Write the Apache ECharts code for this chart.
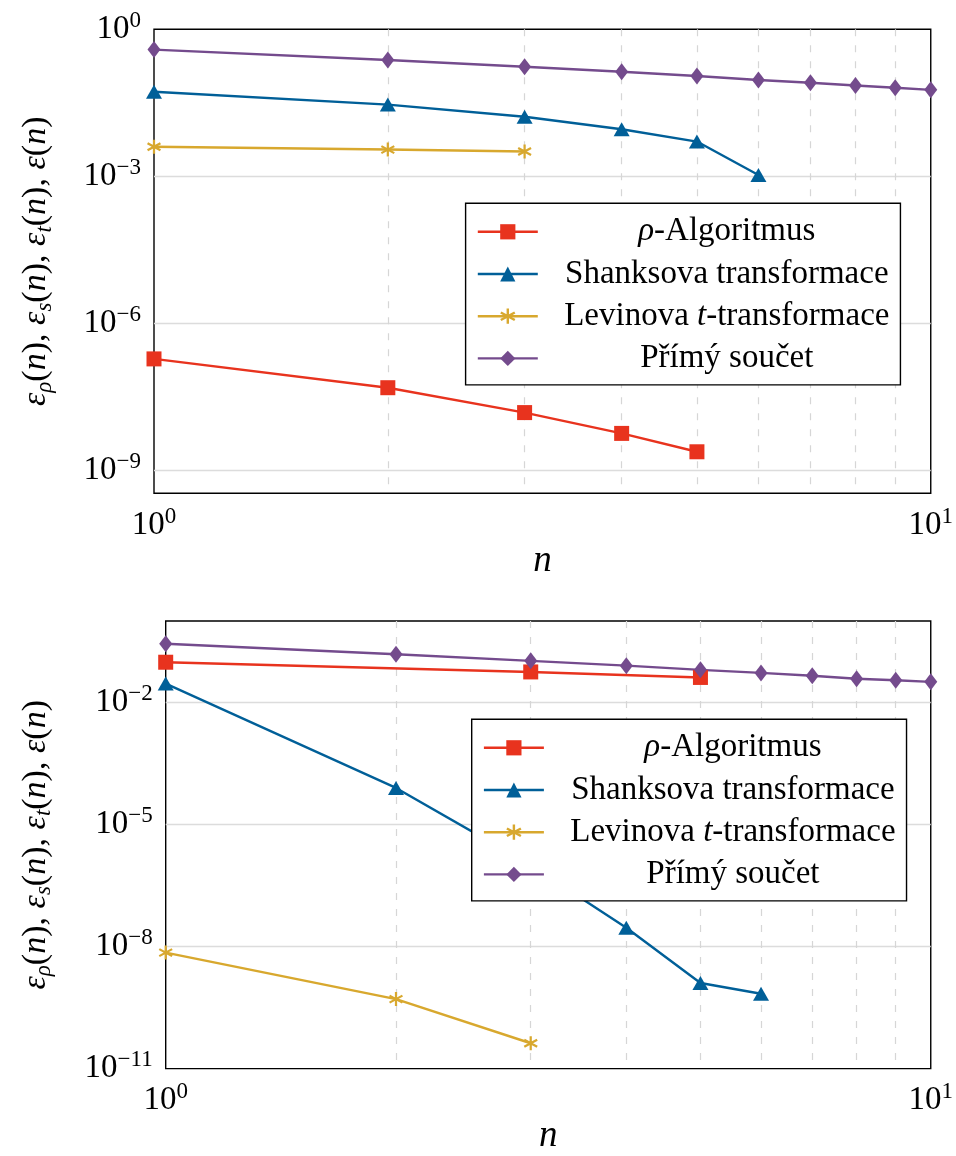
<!DOCTYPE html>
<html>
<head>
<meta charset="utf-8">
<script src="https://cdn.jsdelivr.net/npm/echarts@6/dist/echarts.min.js"></script>
<style>
  html, body { margin: 0; padding: 0; background: #fff; }
  #chart { width: 956px; height: 1156px; }
</style>
</head>
<body>
<div id="chart"></div>
<script>
// n values (x axis)
const nAll = [1, 2, 3, 4, 5, 6, 7, 8, 9, 10];

// top chart
const topRho = [1.86e-7, 4.8e-8, 1.49e-8, 5.6e-9, 2.36e-9];
const topShanks = [0.053, 0.029, 0.0164, 0.0091, 0.0051, 0.00106];
const topLevin = [0.0040, 0.0035, 0.0032];
const topDirect = [0.385, 0.236, 0.172, 0.136, 0.111, 0.092, 0.081, 0.071, 0.064, 0.058];

// bottom chart
const botRhoN = [1, 3, 5];
const botRho = [0.097, 0.056, 0.041];
const botShanks = [0.029, 7.9e-5, 1.0e-6, 2.9e-8, 1.27e-9, 6.9e-10];
const botLevin = [7.1e-9, 5.1e-10, 4.2e-11];
const botDirect = [0.276, 0.152, 0.105, 0.080, 0.063, 0.053, 0.045, 0.038, 0.035, 0.032];

// axis ticks
const topYLabels = [1e-9, 1e-6, 1e-3, 1];
const topYGrid = [1e-9, 1e-6, 1e-3];
const botYLabels = [1e-11, 1e-8, 1e-5, 1e-2];
const botYGrid = [1e-8, 1e-5, 1e-2];

const names = ['ρ-Algoritmus', 'Shanksova transformace', 'Levinova t-transformace', 'Přímý součet'];

const FONT = 'Liberation Serif';
const colors = ['#e8331e', '#005f98', '#d8a82e', '#744b8d'];
// six-armed asterisk
const starPath = 'path://M8.5 0L11.5 0L11.5 20L8.5 20Z M2.09 16.3L0.59 13.7L17.91 3.7L19.41 6.3Z M2.09 3.7L19.41 13.7L17.91 16.3L0.59 6.3Z';
const symbols = ['rect', 'triangle', starPath, 'diamond'];
const symbolSizes = [15, [16, 14], 14, [13, 17]];

// legend texts (math parts italic)
const legendRich = {
  'ρ-Algoritmus': '{ci|ρ}{c|-Algoritmus}',
  'Shanksova transformace': '{c|Shanksova transformace}',
  'Levinova t-transformace': '{c|Levinova }{ci|t}{c|-transformace}',
  'Přímý součet': '{c|Přímý součet}'
};

const yName = '{i|ε}{s|ρ}{m|(}{i|n}{m|), }{i|ε}{s|s}{m|(}{i|n}{m|), }{i|ε}{s|t}{m|(}{i|n}{m|), }{i|ε}{m|(}{i|n}{m|)}';

function pow10Label(v) {
  const e = Math.round(Math.log10(v));
  return '{b|10}{p|' + String(e).replace('-', '−') + '}';
}

const labelRich = {
  b: { fontFamily: FONT, fontSize: 33, lineHeight: 40, color: '#000' },
  p: { fontFamily: FONT, fontSize: 23, lineHeight: 21, verticalAlign: 'top', color: '#000' }
};

const nameRich = {
  m: { fontFamily: FONT, fontSize: 34, lineHeight: 40, color: '#000' },
  i: { fontFamily: FONT, fontSize: 34, lineHeight: 40, fontStyle: 'italic', color: '#000' },
  s: { fontFamily: FONT, fontSize: 23, lineHeight: 17, fontStyle: 'italic', verticalAlign: 'bottom', color: '#000' }
};

function pairs(xs, ys) {
  return ys.map((v, i) => [xs[i], v]);
}

function mkSeries(idx, k, data) {
  return {
    name: names[k],
    type: 'line',
    xAxisIndex: idx,
    yAxisIndex: idx,
    data: data,
    symbol: symbols[k],
    symbolSize: symbolSizes[k],
    clip: false,
    animation: false,
    lineStyle: { color: colors[k], width: 2.4 },
    itemStyle: { color: colors[k] },
    z: 2
  };
}

function mkXAxis(idx) {
  return {
    type: 'log',
    logBase: 10,
    gridIndex: idx,
    min: 1,
    max: 10,
    axisLine: { show: false },
    axisTick: { show: false },
    splitLine: { show: false },
    minorTick: { show: false, splitNumber: 9 },
    minorSplitLine: { show: true, lineStyle: { color: '#d6d6d6', width: 1.2, type: [7, 9] } },
    axisLabel: { margin: 12, formatter: pow10Label, rich: labelRich },
    name: 'n',
    nameLocation: 'middle',
    nameGap: 47,
    nameTextStyle: { fontFamily: FONT, fontSize: 37, fontStyle: 'italic', color: '#000' }
  };
}

function mkYAxis(idx, min, max, labels, grid, gap) {
  return {
    type: 'log',
    logBase: 10,
    gridIndex: idx,
    min: min,
    max: max,
    axisLine: { show: false },
    axisTick: { show: false, customValues: grid },
    splitLine: { show: true, lineStyle: { color: '#dcdcdc', width: 1.3 } },
    axisLabel: { margin: 13, customValues: labels, formatter: pow10Label, rich: labelRich },
    name: yName,
    nameLocation: 'middle',
    nameRotate: 90,
    nameGap: gap,
    nameTextStyle: { rich: nameRich }
  };
}

function mkLegend(left, top) {
  return {
    orient: 'vertical',
    left: left,
    top: top,
    z: 20,
    padding: [12, 11, 10, 11],
    itemGap: 9.2,
    itemWidth: 60,
    itemHeight: 19,
    backgroundColor: '#fff',
    borderColor: '#000',
    borderWidth: 1.4,
    borderRadius: 0,
    data: names,
    selectedMode: false,
    lineStyle: { width: 2.4 },
    formatter: name => legendRich[name],
    textStyle: {
      width: 368,
      rich: {
        c: { fontFamily: FONT, fontSize: 33, lineHeight: 34, align: 'center', color: '#000' },
        ci: { fontFamily: FONT, fontSize: 33, lineHeight: 34, fontStyle: 'italic', align: 'center', color: '#000' }
      }
    }
  };
}

const chart = echarts.init(document.getElementById('chart'));
chart.setOption({
  backgroundColor: '#fff',
  animation: false,
  grid: [
    { left: 154, top: 29.3, width: 778.7, height: 464, show: true, borderColor: '#000', borderWidth: 1.4, backgroundColor: 'transparent' },
    { left: 165.7, top: 621, width: 767, height: 458.3, show: true, borderColor: '#000', borderWidth: 1.4, backgroundColor: 'transparent' }
  ],
  legend: [mkLegend(465.6, 203.3), mkLegend(471.7, 719.3)],
  xAxis: [mkXAxis(0), mkXAxis(1)],
  yAxis: [
    mkYAxis(0, 3.35e-10, 1, topYLabels, topYGrid, 98),
    mkYAxis(1, 1e-11, 1, botYLabels, botYGrid, 110)
  ],
  series: [
    mkSeries(0, 0, pairs(nAll, topRho)),
    mkSeries(0, 1, pairs(nAll, topShanks)),
    mkSeries(0, 2, pairs(nAll, topLevin)),
    mkSeries(0, 3, pairs(nAll, topDirect)),
    mkSeries(1, 0, pairs(botRhoN, botRho)),
    mkSeries(1, 1, pairs(nAll, botShanks)),
    mkSeries(1, 2, pairs(nAll, botLevin)),
    mkSeries(1, 3, pairs(nAll, botDirect))
  ]
});
</script>
</body>
</html>
